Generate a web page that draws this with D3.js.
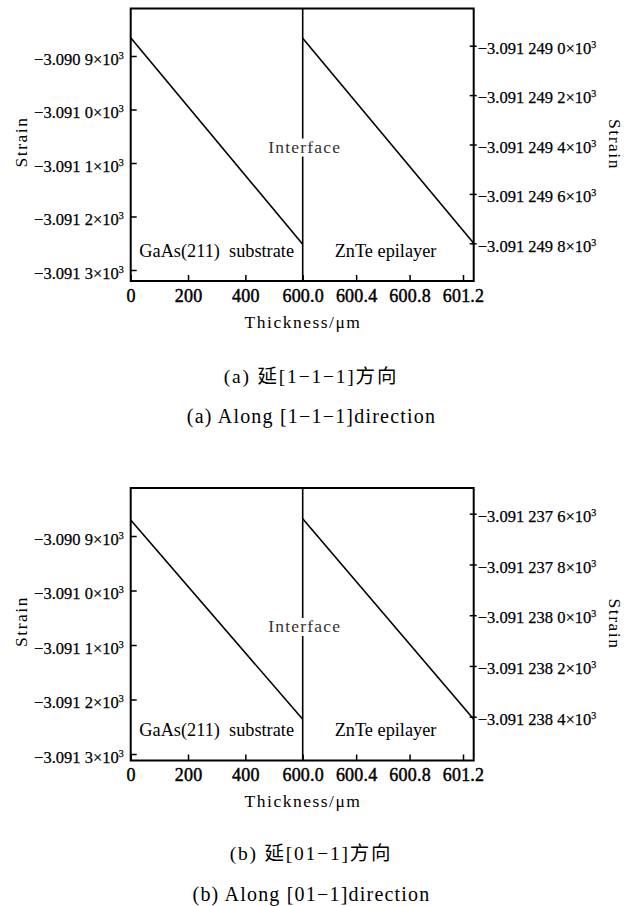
<!DOCTYPE html>
<html>
<head>
<meta charset="utf-8">
<title>Strain vs thickness</title>
<script src="https://d3js.org/d3.v7.min.js"></script>
<style>
  body { margin: 0; background: #fff; }
  text { font-family: "Liberation Serif", "Times New Roman", "Noto Sans CJK SC", serif; fill: #000; }
</style>
</head>
<body>
<script>

// strain values are in units of 10^-3 (as printed on the axes)
var xTicks = [0, 200, 400, 600, 600.4, 600.8, 601.2];
var thickSub = [0, 600];
var thickEpi = [600, 601.28];

var strainSubA = [-3.0908658, -3.0912520];
var strainEpiA = [-3.09124897, -3.09124980];
var strainSubB = [-3.0908706, -3.0912363];
var strainEpiB = [-3.09123762, -3.09123841];

var leftTicks = [-3.0909, -3.0910, -3.0911, -3.0912, -3.0913];
var rightTicksA = [-3.0912490, -3.0912492, -3.0912494, -3.0912496, -3.0912498];
var rightTicksB = [-3.0912376, -3.0912378, -3.0912380, -3.0912382, -3.0912384];

var leftDomainA = [-3.0913206, -3.0908112];
var rightDomainA = [-3.0912499526, -3.0912488494];
var leftDomainB = [-3.0913119, -3.0908119];
var rightDomainB = [-3.0912385726, -3.0912374987];

var captionsCN = ["(a) 延[1\u22121\u22121]方向", "(b) 延[01\u22121]方向"];
var captionsEN = ["(a) Along [1\u22121\u22121]direction", "(b) Along [01\u22121]direction"];

var width = 634, height = 906;
var x0 = 130.7, x1 = 473.7, xMid = 302.7;
var ph = 272.5;

var svg = d3.select("body").append("svg")
	.attr("width", width)
	.attr("height", height);

svg.append("rect").attr("width", width).attr("height", height).attr("fill", "#fff");

var x = d3.scaleLinear()
	.domain([0, 600, thickEpi[1]])
	.range([x0, xMid, x1]);

// -3.0909 -> "−3.090 9"
function fmtStrain(v, dec) {
	var s = Math.abs(v).toFixed(dec);
	var parts = s.split(".");
	var frac = parts[1].match(/.{1,3}/g).join(" ");
	return "\u2212" + parts[0] + "." + frac;
}

function addSup(sel) {
	sel.append("tspan").attr("dy", -6).attr("font-size", 10).text("3");
}

function drawPanel(top, sub, epi, lDom, rDom, rTicks, capY, capCN, capEN) {
	var g = svg.append("g").attr("transform", "translate(0," + top + ")");

	var yL = d3.scaleLinear().domain(lDom).range([ph, 0]);
	var yR = d3.scaleLinear().domain(rDom).range([ph, 0]);

	// left axis
	var gl = g.append("g").attr("transform", "translate(" + x0 + ",0)")
		.call(d3.axisLeft(yL).tickValues(leftTicks).tickSize(-6).tickPadding(7)
			.tickFormat(function(d) { return fmtStrain(d, 4) + "\u00d710"; }));
	gl.select(".domain").remove();
	gl.selectAll(".tick line").attr("stroke", "#000").attr("stroke-width", 1.5);
	gl.selectAll(".tick text").attr("font-size", 16.5).attr("dy", "0.5em")
		.attr("stroke", "#000").attr("stroke-width", 0.25)
		.each(function() { addSup(d3.select(this)); });

	// right axis
	var gr = g.append("g").attr("transform", "translate(" + x1 + ",0)")
		.call(d3.axisRight(yR).tickValues(rTicks).tickSize(3).tickPadding(1)
			.tickFormat(function(d) { return fmtStrain(d, 7) + "\u00d710"; }));
	gr.select(".domain").remove();
	gr.selectAll(".tick line").attr("x1", -4).attr("stroke", "#000").attr("stroke-width", 1.5);
	gr.selectAll(".tick text").attr("font-size", 16.5).attr("dy", "0.47em")
		.attr("stroke", "#000").attr("stroke-width", 0.25)
		.each(function() { addSup(d3.select(this)); });

	// bottom axis
	var gb = g.append("g").attr("transform", "translate(0," + ph + ")")
		.call(d3.axisBottom(x).tickValues(xTicks).tickSize(-6).tickPadding(8)
			.tickFormat(function(d) { return d < 600 ? d3.format("d")(d) : d.toFixed(1); }));
	gb.select(".domain").remove();
	gb.selectAll(".tick line").attr("stroke", "#000").attr("stroke-width", 1.5);
	gb.selectAll(".tick text").attr("font-size", 18).attr("letter-spacing", 0.2)
		.attr("stroke", "#000").attr("stroke-width", 0.45);

	// frame
	g.append("rect")
		.attr("x", x0).attr("y", 0)
		.attr("width", x1 - x0).attr("height", ph)
		.attr("fill", "none").attr("stroke", "#000").attr("stroke-width", 2);

	// interface line
	g.append("line")
		.attr("x1", x(600)).attr("x2", x(600))
		.attr("y1", 0).attr("y2", ph)
		.attr("stroke", "#000").attr("stroke-width", 1.6);

	var line = d3.line();
	g.append("path")
		.attr("d", line(sub.map(function(v, i) { return [x(thickSub[i]), yL(v)]; })))
		.attr("fill", "none").attr("stroke", "#000").attr("stroke-width", 1.6);
	g.append("path")
		.attr("d", line(epi.map(function(v, i) { return [x(thickEpi[i]), yR(v)]; })))
		.attr("fill", "none").attr("stroke", "#000").attr("stroke-width", 1.6);

	// labels
	var bg = g.append("rect").attr("fill", "#fff");
	var it = g.append("text")
		.attr("x", x(600) + 2).attr("y", 144)
		.attr("text-anchor", "middle").attr("font-size", 17.5)
		.attr("letter-spacing", 1.2).style("fill", "#333")
		.text("Interface");
	var bb = it.node().getBBox();
	bg.attr("x", bb.x).attr("y", bb.y + 2)
		.attr("width", bb.width).attr("height", bb.height - 2);

	g.append("text")
		.attr("x", x(300)).attr("y", 248)
		.attr("text-anchor", "middle").attr("font-size", 18.3)
		.attr("xml:space", "preserve")
		.text("GaAs(211)  substrate");
	g.append("text")
		.attr("x", x(600.62)).attr("y", 248)
		.attr("text-anchor", "middle").attr("font-size", 18.3)
		.text("ZnTe epilayer");

	g.append("text")
		.attr("transform", "translate(27," + 133.5 + ") rotate(-90)")
		.attr("text-anchor", "middle").attr("font-size", 17.5)
		.attr("letter-spacing", 1.5)
		.text("Strain");
	g.append("text")
		.attr("transform", "translate(609," + 136 + ") rotate(90)")
		.attr("text-anchor", "middle").attr("font-size", 17.5)
		.attr("letter-spacing", 1.5)
		.text("Strain");

	g.append("text")
		.attr("x", 303).attr("y", ph + 46.5)
		.attr("text-anchor", "middle").attr("font-size", 17.5)
		.attr("letter-spacing", 1.5)
		.text("Thickness/\u03bcm");

	svg.append("text")
		.attr("x", 311).attr("y", capY)
		.attr("text-anchor", "middle").attr("font-size", 19.5)
		.attr("letter-spacing", 1.8)
		.attr("xml:space", "preserve")
		.text(capCN);
	svg.append("text")
		.attr("x", 311.5).attr("y", capY + 40.5)
		.attr("text-anchor", "middle").attr("font-size", 20)
		.attr("letter-spacing", 1.2)
		.attr("xml:space", "preserve")
		.text(capEN);
}

drawPanel(8.5, strainSubA, strainEpiA, leftDomainA, rightDomainA, rightTicksA, 382.5, captionsCN[0], captionsEN[0]);
drawPanel(488, strainSubB, strainEpiB, leftDomainB, rightDomainB, rightTicksB, 860, captionsCN[1], captionsEN[1]);

</script>
</body>
</html>
